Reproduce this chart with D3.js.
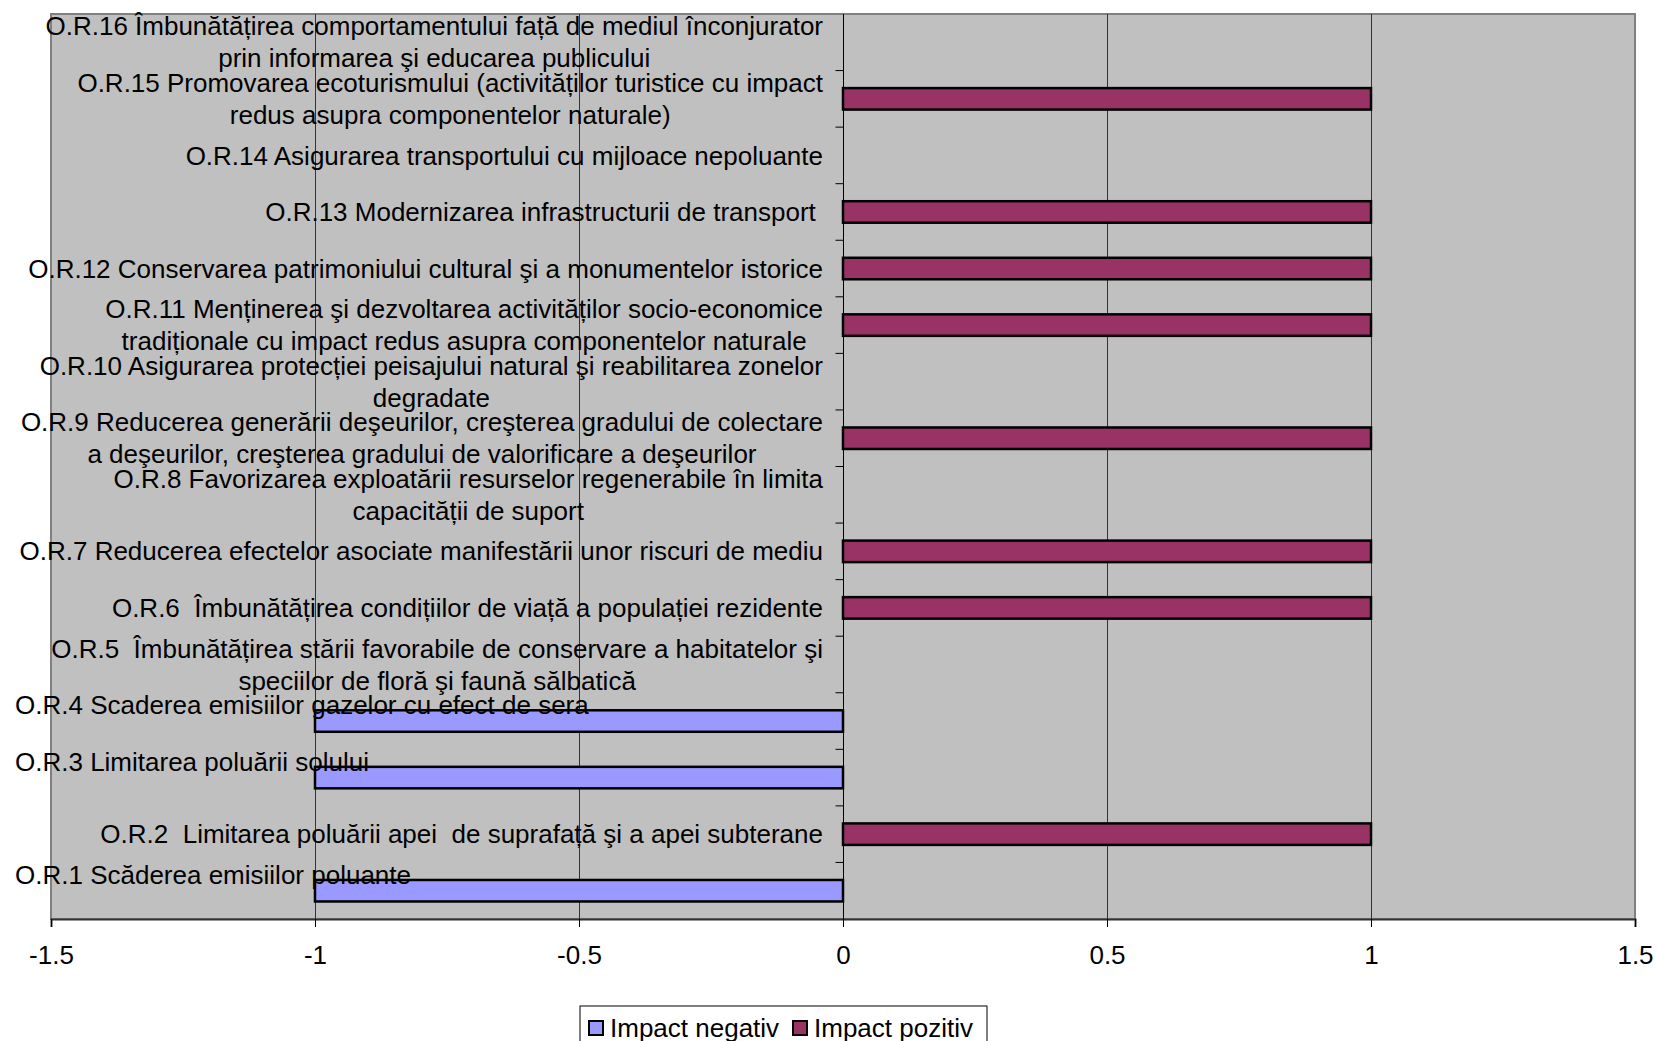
<!DOCTYPE html>
<html>
<head>
<meta charset="utf-8">
<script src="https://cdn.jsdelivr.net/npm/d3@7"></script>
<style>
  body { margin: 0; background: #fff; }
  text { font-family: "Liberation Sans", Arial, sans-serif; fill: #000; white-space: pre; }
</style>
</head>
<body>
<div id="chart"></div>
<script>
// categories, bottom to top
const categories = ["O.R.1", "O.R.2", "O.R.3", "O.R.4", "O.R.5", "O.R.6", "O.R.7", "O.R.8",
    "O.R.9", "O.R.10", "O.R.11", "O.R.12", "O.R.13", "O.R.14", "O.R.15", "O.R.16"];

const category_labels = [
    ["O.R.1 Scăderea emisiilor poluante", ""],
    ["O.R.2  Limitarea poluării apei  de suprafață şi a apei subterane"],
    ["O.R.3 Limitarea poluării solului", ""],
    ["O.R.4 Scaderea emisiilor gazelor cu efect de sera", ""],
    ["O.R.5  Îmbunătățirea stării favorabile de conservare a habitatelor şi", "speciilor de floră şi faună sălbatică"],
    ["O.R.6  Îmbunătățirea condițiilor de viață a populației rezidente"],
    ["O.R.7 Reducerea efectelor asociate manifestării unor riscuri de mediu"],
    ["O.R.8 Favorizarea exploatării resurselor regenerabile în limita", "capacității de suport"],
    ["O.R.9 Reducerea generării deşeurilor, creşterea gradului de colectare", "a deşeurilor, creşterea gradului de valorificare a deşeurilor"],
    ["O.R.10 Asigurarea protecției peisajului natural şi reabilitarea zonelor", "degradate"],
    ["O.R.11 Menținerea şi dezvoltarea activităților socio-economice", "tradiționale cu impact redus asupra componentelor naturale"],
    ["O.R.12 Conservarea patrimoniului cultural şi a monumentelor istorice"],
    ["O.R.13 Modernizarea infrastructurii de transport "],
    ["O.R.14 Asigurarea transportului cu mijloace nepoluante"],
    ["O.R.15 Promovarea ecoturismului (activităților turistice cu impact", "redus asupra componentelor naturale)"],
    ["O.R.16 Îmbunătățirea comportamentului față de mediul înconjurator", "prin informarea şi educarea publicului"]
];

const impact_negativ = [-1, null, -1, -1, null, null, null, null, null, null, null, null, null, null, null, null];
const impact_pozitiv = [null, 1, null, null, null, 1, 1, null, 1, null, 1, 1, 1, null, 1, null];

const series_names = ["Impact negativ", "Impact pozitiv"];
const x_ticks = [-1.5, -1, -0.5, 0, 0.5, 1, 1.5];

// labels that Excel pushed to the left edge
const left_labels = ["O.R.1", "O.R.3", "O.R.4"];

const colors = ["#9999ff", "#993366"];

const width = 1657, height = 1041;
const plot = {left: 51, right: 1635, top: 14, bottom: 919};

const svg = d3.select("#chart")
    .append("svg")
    .attr("width", width)
    .attr("height", height);

const x = d3.scaleLinear()
    .domain([-1.5, 1.5])
    .range([plot.left, plot.right]);

const y = d3.scaleBand()
    .domain(categories.slice().reverse())
    .range([plot.top, plot.bottom]);

// plot background
svg.append("rect")
    .attr("x", plot.left)
    .attr("y", plot.top)
    .attr("width", plot.right - plot.left)
    .attr("height", plot.bottom - plot.top)
    .attr("fill", "#c0c0c0")
    .attr("stroke", "#808080")
    .attr("stroke-width", 2);

// vertical gridlines
svg.append("g")
    .selectAll("line")
    .data(x_ticks.filter(d => d !== 0 && Math.abs(d) !== 1.5))
    .join("line")
    .attr("x1", d => Math.round(x(d)) + 0.5)
    .attr("x2", d => Math.round(x(d)) + 0.5)
    .attr("y1", plot.top)
    .attr("y2", plot.bottom)
    .attr("stroke", "#333")
    .attr("stroke-width", 1);

// bars
const bar_h = y.bandwidth() * 0.38;
const series = [impact_negativ, impact_pozitiv];
series.forEach((vals, si) => {
    svg.append("g")
        .selectAll("rect")
        .data(vals.map((v, i) => ({cat: categories[i], v: v})).filter(d => d.v !== null))
        .join("rect")
        .attr("x", d => x(Math.min(0, d.v)))
        .attr("width", d => Math.abs(x(d.v) - x(0)))
        .attr("y", d => y(d.cat) + (y.bandwidth() - bar_h) / 2)
        .attr("height", bar_h)
        .attr("fill", colors[si])
        .attr("stroke", "#000")
        .attr("stroke-width", 2.5);
});

// bottom axis
const x_axis = svg.append("g")
    .attr("transform", `translate(0, ${plot.bottom})`)
    .call(d3.axisBottom(x).tickValues(x_ticks).tickSize(8).tickPadding(19)
        .tickFormat(d => String(d)));
x_axis.select(".domain").attr("stroke", "#333").attr("stroke-width", 2);
x_axis.selectAll(".tick line").attr("stroke", "#000");
x_axis.selectAll(".tick text").style("font-size", "26px").attr("fill", "#000");

// category axis at zero
const y_axis = svg.append("g")
    .attr("transform", `translate(${Math.round(x(0)) + 0.5}, 0)`);
y_axis.append("line")
    .attr("y1", plot.top)
    .attr("y2", plot.bottom + 8)
    .attr("stroke", "#000");
y_axis.selectAll(".cat-tick")
    .data(categories.slice(1))
    .join("line")
    .attr("class", "cat-tick")
    .attr("x1", -8)
    .attr("x2", 0)
    .attr("y1", d => y(d) + y.bandwidth())
    .attr("y2", d => y(d) + y.bandwidth())
    .attr("stroke", "#000");

// category labels
const label_right = 823;
const line_h = 32;
const label_g = svg.append("g").style("font-size", "26px");
categories.forEach((cat, i) => {
    const lines = category_labels[i];
    const cy = y(cat) + y.bandwidth() / 2;
    const g = label_g.append("g");
    const texts = lines.map((t, li) => g.append("text")
        .attr("y", cy + (li - (lines.length - 1) / 2) * line_h)
        .attr("dy", "0.35em")
        .text(t));
    if (left_labels.includes(cat)) {
        texts.forEach(t => t.attr("x", 15).attr("text-anchor", "start"));
    } else {
        const block_w = d3.max(texts, t => t.node().getComputedTextLength());
        texts.forEach(t => t.attr("x", label_right - block_w / 2).attr("text-anchor", "middle"));
    }
});

// legend
const legend = svg.append("g").attr("transform", "translate(580, 1006)");
legend.append("rect")
    .attr("width", 407)
    .attr("height", 50)
    .attr("fill", "#fff")
    .attr("stroke", "#000");
const legend_x = [9, 213];
series_names.forEach((name, i) => {
    legend.append("rect")
        .attr("x", legend_x[i])
        .attr("y", 15)
        .attr("width", 14)
        .attr("height", 14)
        .attr("fill", colors[i])
        .attr("stroke", "#000")
        .attr("stroke-width", 2);
    legend.append("text")
        .attr("x", legend_x[i] + 21)
        .attr("y", 22)
        .attr("dy", "0.35em")
        .style("font-size", "26px")
        .text(name);
});
</script>
</body>
</html>
